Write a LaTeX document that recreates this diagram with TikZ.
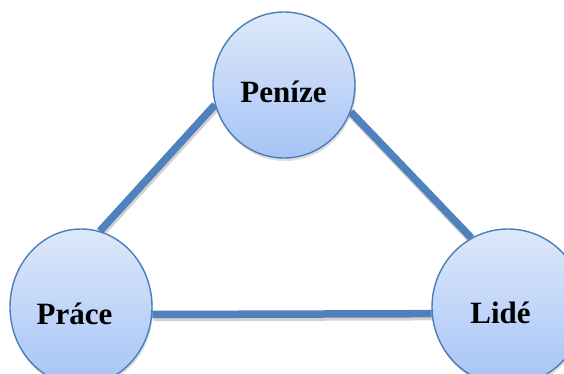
\documentclass[tikz,border=0pt]{standalone}
\usepackage{fontspec}
\setmainfont{Liberation Serif}
\usetikzlibrary{shapes.geometric,shadows,backgrounds}
\definecolor{linkblue}{HTML}{4F81BD}
\definecolor{rimblue}{HTML}{4A7EBB}
\definecolor{filltop}{HTML}{DDE8FA}
\definecolor{fillbot}{HTML}{A6C4F6}
\tikzset{
  bubble/.style={ellipse, draw=rimblue, line width=1.4pt, inner sep=0pt,
    top color=filltop, bottom color=fillbot,
    drop shadow={opacity=0.25, shadow xshift=1pt, shadow yshift=-3pt}},
  link/.style={draw=linkblue, line width=7.5pt},
  linkshadow/.style={draw=black, opacity=0.18, line width=7.5pt,
    transform canvas={xshift=1pt, yshift=-3pt}},
  word/.style={font=\bfseries\fontsize{31}{31}\selectfont, inner sep=0pt, anchor=base}
}
\begin{document}
\begin{tikzpicture}[x=1pt,y=-1pt]
\useasboundingbox (0,0) rectangle (564,374);
\node[bubble, minimum width=142pt, minimum height=146pt] (penize) at (284,85) {};
\node[bubble, minimum width=142pt, minimum height=156pt] (prace) at (81,307) {};
\node[bubble, minimum width=152pt, minimum height=156pt] (lide) at (508,307) {};
\node[word] (tpenize) at (283.5,103) {Peníze};
\node[word] (tprace) at (74.5,324) {Práce};
\node[word] (tlide) at (500.5,323) {Lidé};
\begin{scope}[on background layer]
  \path[linkshadow] (prace.76) -- (penize.196);
  \path[linkshadow] (penize.338) -- (lide.118);
  \path[linkshadow] (prace.354) -- (lide.185.3);
  \path[link] (prace.76) -- (penize.196);
  \path[link] (penize.338) -- (lide.118);
  \path[link] (prace.354) -- (lide.185.3);
\end{scope}
\end{tikzpicture}
\end{document}
